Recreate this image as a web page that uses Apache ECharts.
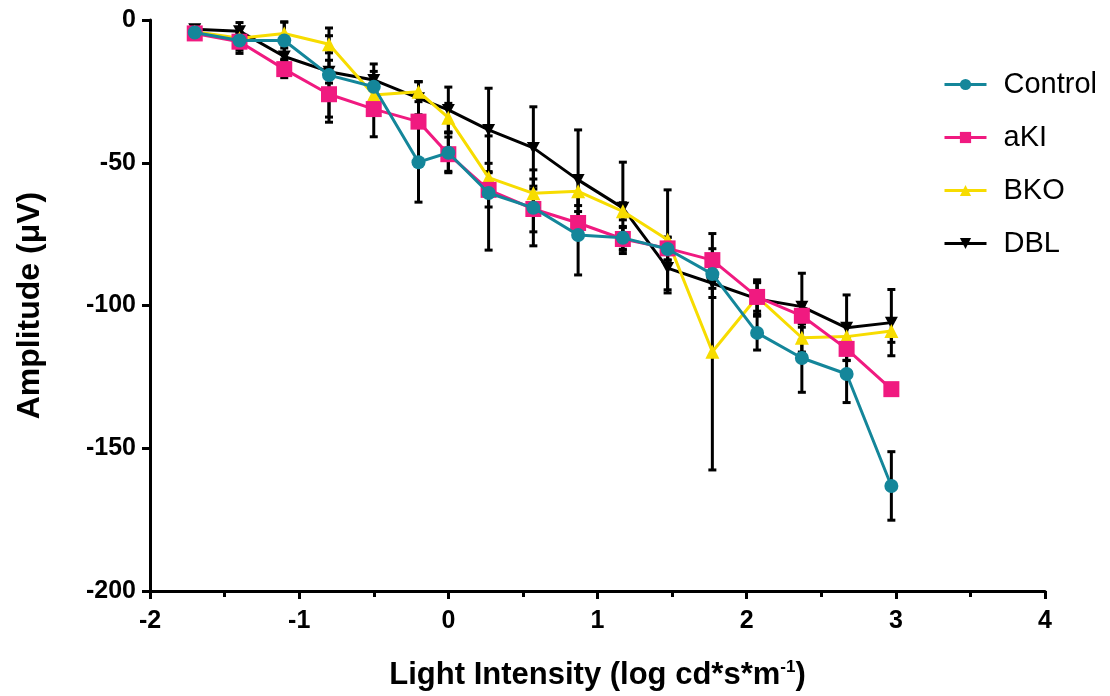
<!DOCTYPE html>
<html>
<head>
<meta charset="utf-8">
<script src="https://cdn.jsdelivr.net/npm/echarts@6/dist/echarts.min.js"></script>
<style>html,body{margin:0;padding:0;background:#fff}#c{width:1110px;height:696px}</style>
</head>
<body>
<div id="c"></div>
<script>
var xValues = [-1.7, -1.4, -1.1, -0.8, -0.5, -0.2, 0, 0.27, 0.57, 0.87, 1.17, 1.47, 1.77, 2.07, 2.37, 2.67, 2.97];
var controlY = [-4.4, -7.2, -7.2, -19.3, -23.4, -49.8, -46.5, -60.6, -65.8, -75.3, -76.3, -80.2, -89, -109.6, -118.4, -124, -163.2];
var controlErr = [1.5, 4.5, 6.5, 16.5, 8, 14, 7, 20, 13.3, 14, 4, 4, 5, 6, 12, 10, 12];
var akiY = [-4.7, -7.6, -17.2, -26, -31.2, -35.6, -47, -59.5, -66.2, -71.1, -76.7, -80, -84.1, -97, -103.6, -115.2, -129.3];
var akiErr = [1.5, 3, 3, 8, 9.7, 14, 6, 6, 8, 4, 4, 4, 4, 6, 4, 4, 1];
var bkoY = [-4.1, -6.4, -4.7, -8.5, -26.3, -25.1, -34.2, -55.2, -60.7, -60, -67, -77, -116.2, -97, -111.3, -110.9, -108.9];
var bkoErr = [1, 2, 4, 3, 3, 3.5, 5, 5, 5, 5, 3, 17.5, 41.4, 5, 5, 4, 4];
var dblY = [-3.2, -3.9, -12.8, -18.1, -21, -27.4, -31.5, -38.5, -44.8, -56, -65.8, -86.9, -92.2, -97.7, -100.4, -107.8, -106];
var dblErr = [1, 3, 3, 4, 3, 5.8, 8, 14.6, 14.4, 17.5, 16, 8.7, 5, 6, 11.7, 11.5, 11.6];
var yTicks = [-200, -150, -100, -50, 0];
var xTicks = [-2, -1, 0, 1, 2, 3, 4];

var seriesDefs = [
  {name: 'DBL', y: dblY, err: dblErr, color: '#000000', symbol: 'path://M0,0 L10,0 L5,9 Z', size: [13, 12], z: 3},
  {name: 'BKO', y: bkoY, err: bkoErr, color: '#F7DC00', symbol: 'triangle', size: 14, z: 4},
  {name: 'aKI', y: akiY, err: akiErr, color: '#F01A80', symbol: 'rect', size: 16, z: 5},
  {name: 'Control', y: controlY, err: controlErr, color: '#14869A', symbol: 'circle', size: 14, z: 6}
];

function pairs(ys) { return xValues.map(function (x, i) { return [x, ys[i]]; }); }

var series = [];
seriesDefs.forEach(function (d) {
  series.push({
    type: 'custom',
    name: d.name + ' err',
    z: 2,
    silent: true,
    data: xValues.map(function (x, i) { return [x, d.y[i] - d.err[i], d.y[i] + d.err[i]]; }),
    renderItem: function (params, api) {
      var lo = api.coord([api.value(0), api.value(1)]);
      var hi = api.coord([api.value(0), api.value(2)]);
      var w = 4;
      var st = {stroke: '#000', lineWidth: 3};
      return {type: 'group', children: [
        {type: 'line', shape: {x1: lo[0], y1: lo[1], x2: hi[0], y2: hi[1]}, style: st},
        {type: 'line', shape: {x1: lo[0] - w, y1: lo[1], x2: lo[0] + w, y2: lo[1]}, style: st},
        {type: 'line', shape: {x1: hi[0] - w, y1: hi[1], x2: hi[0] + w, y2: hi[1]}, style: st}
      ]};
    }
  });
});
var legendOrder = ['Control', 'aKI', 'BKO', 'DBL'];
seriesDefs.forEach(function (d) {
  series.push({
    type: 'line',
    name: d.name,
    z: d.z,
    data: pairs(d.y),
    symbol: d.symbol,
    symbolSize: d.size,
    showAllSymbol: true,
    lineStyle: {color: d.color, width: 3},
    itemStyle: {color: d.color, borderWidth: 0},
    emphasis: {disabled: true},
    animation: false
  });
});

var FONT = '"Liberation Sans", Arial, Helvetica, sans-serif';
var chart = echarts.init(document.getElementById('c'), null, {renderer: 'canvas'});
var labelFont = {color: '#000', fontSize: 25, fontWeight: 'bold', fontFamily: FONT};
chart.setOption({
  animation: false,
  backgroundColor: '#fff',
  grid: {left: 150, right: 65, top: 20, bottom: 105, containLabel: false, outerBoundsMode: 'none'},
  legend: {
    orient: 'vertical',
    left: 938,
    top: 65,
    itemGap: 24,
    itemWidth: 42,
    itemHeight: 14,
    data: legendOrder,
    lineStyle: {width: 3},
    textStyle: {fontSize: 29, color: '#000', fontFamily: FONT, padding: [0, 0, 0, 12]}
  },
  xAxis: {
    type: 'value',
    min: -2, max: 4, interval: 1,
    name: '{a|Light Intensity (log cd*s*m}{s|-1}{a|)}',
    nameLocation: 'middle',
    nameGap: 68,
    nameTextStyle: {rich: {
      a: {fontSize: 31, fontWeight: 'bold', color: '#000', fontFamily: FONT},
      s: {fontSize: 17, fontWeight: 'bold', color: '#000', verticalAlign: 'top', padding: [0, 0, 16, 0], fontFamily: FONT}
    }},
    axisLine: {onZero: false, lineStyle: {color: '#000', width: 3}},
    axisTick: {length: 8, lineStyle: {color: '#000', width: 3}},
    minorTick: {show: true, splitNumber: 2, length: 6, lineStyle: {color: '#000', width: 3}},
    splitLine: {show: false},
    axisLabel: Object.assign({margin: 18, formatter: function (v) { return xTicks.indexOf(v) >= 0 ? String(v) : ''; }}, labelFont)
  },
  yAxis: {
    type: 'value',
    min: -200, max: 0, interval: 50,
    name: 'Amplitude (μV)',
    nameLocation: 'middle',
    nameGap: 104,
    nameTextStyle: {fontSize: 32, fontWeight: 'bold', color: '#000', fontFamily: FONT},
    axisLine: {onZero: false, show: true, lineStyle: {color: '#000', width: 3}},
    axisTick: {show: true, length: 8, lineStyle: {color: '#000', width: 3}},
    splitLine: {show: false},
    axisLabel: Object.assign({margin: 14, formatter: function (v) { return yTicks.indexOf(v) >= 0 ? String(v) : ''; }}, labelFont)
  },
  series: series
});
</script>
</body>
</html>
